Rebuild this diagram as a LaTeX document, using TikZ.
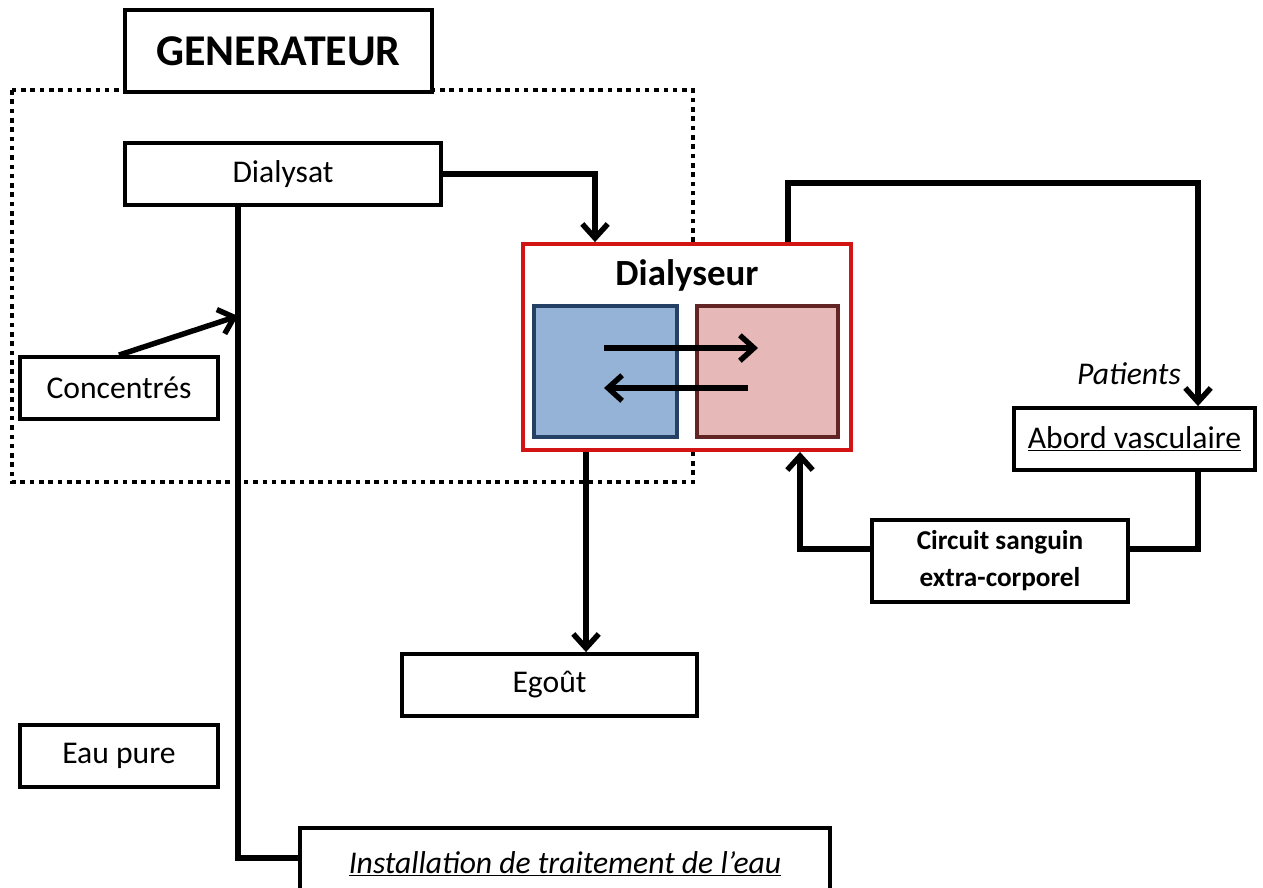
\documentclass[tikz,border=0pt]{standalone}
\usepackage{fontspec}
\setmainfont{Carlito}
\usepackage{tikz}
\usetikzlibrary{arrows.meta, positioning}

\definecolor{blueside}{RGB}{149,179,215}
\definecolor{blueedge}{RGB}{36,64,100}
\definecolor{pinkside}{RGB}{230,185,184}
\definecolor{pinkedge}{RGB}{99,37,35}
\definecolor{rededge}{RGB}{210,20,20}

\begin{document}
\begin{tikzpicture}[x=0.02cm, y=-0.02cm,
    box/.style={draw, line width=2.2pt, fill=white, inner sep=0pt,
                font=\fontsize{18}{21}\selectfont},
    lien/.style={line width=3.1pt},
    fleche/.style={lien, -{Straight Barb[length=8pt,width=14.5pt]}}]
          \useasboundingbox (0,0) rectangle (1263,887);
          \clip (0,0) rectangle (1263,887);

          % le generateur
          \draw[line width=2.6pt, dash pattern=on 2.6pt off 2.7pt] (12,90) rectangle (693,482);
          \node[box, minimum width=307*0.02cm, minimum height=82*0.02cm,
                font=\fontsize{25}{28}\selectfont\bfseries] (gen) at (278.5,51) {GENERATEUR};

          \node[box, minimum width=316*0.02cm, minimum height=62*0.02cm] (dialysat) at (283,174) {Dialysat};
          \node[box, minimum width=198*0.02cm, minimum height=62*0.02cm] (conc)     at (119,388) {Concentrés};
          \node[box, minimum width=198*0.02cm, minimum height=62*0.02cm] (eau)      at (119,756) {Eau pure};
          \node[box, minimum width=530*0.02cm, minimum height=72*0.02cm] (install)  at (565,864)
                {\itshape\underline{Installation de traitement de l’eau}};
          \node[box, minimum width=295*0.02cm, minimum height=62*0.02cm] (egout)    at (549.5,685) {Egoût};

          % le dialyseur
          \node[box, draw=rededge, minimum width=328*0.02cm, minimum height=206*0.02cm] (dialyseur) at (687,347) {};
          \node[font=\fontsize{21}{24}\selectfont\bfseries] (titre) at (687,275) {Dialyseur};
          \node[draw=blueedge, fill=blueside, line width=1.9pt, minimum width=143*0.02cm,
                minimum height=131*0.02cm] (sang) at (605.5,371.5) {};
          \node[draw=pinkedge, fill=pinkside, line width=1.9pt, minimum width=141*0.02cm,
                minimum height=131*0.02cm] (bain) at (767.5,371.5) {};
          \coordinate (g1) at (604,348);
          \coordinate (d1) at (758,348);
          \coordinate (d2) at (748,388);
          \coordinate (g2) at (604,388);
          \draw[fleche] (g1) -- (d1);
          \draw[fleche] (d2) -- (g2);

          % le patient
          \node[box, minimum width=241*0.02cm, minimum height=62*0.02cm] (abord) at (1134.5,439)
                {\underline{Abord vasculaire}};
          \node[box, minimum width=256*0.02cm, minimum height=82*0.02cm,
                font=\fontsize{15.5}{21}\selectfont\bfseries, align=center] (circuit) at (1000,561)
                {Circuit sanguin\\extra-corporel};
          \node[font=\fontsize{18}{21}\selectfont\itshape, anchor=east] (patients) at (1187,374) {Patients};

          % les liaisons
          \coordinate (xin)  at (595,0);
          \coordinate (xout) at (586,0);
          \coordinate (xup)  at (788,0);
          \coordinate (xpat) at (1198,183);
          \coordinate (xret) at (800,549);
          \coordinate (eauv) at (238,0);
          \coordinate (join) at (238,316);
          \coordinate (coin) at (238,858);

          \draw[fleche] (dialysat.east) -| (xin |- dialyseur.north);
          \draw[fleche] (xout |- dialyseur.south) -- (xout |- egout.north);
          \draw[fleche] (xup |- dialyseur.north) |- (xpat) -- (xpat |- abord.north);
          \draw[lien] (xpat |- abord.south) |- (circuit.east |- xret);
          \draw[fleche] (circuit.west |- xret) -| (xret |- dialyseur.south);
          \draw[lien] (eauv |- dialysat.south) -- (coin) -- (coin -| install.west);
          \draw[fleche] (conc.north) -- (join);
        \end{tikzpicture}
\end{document}
